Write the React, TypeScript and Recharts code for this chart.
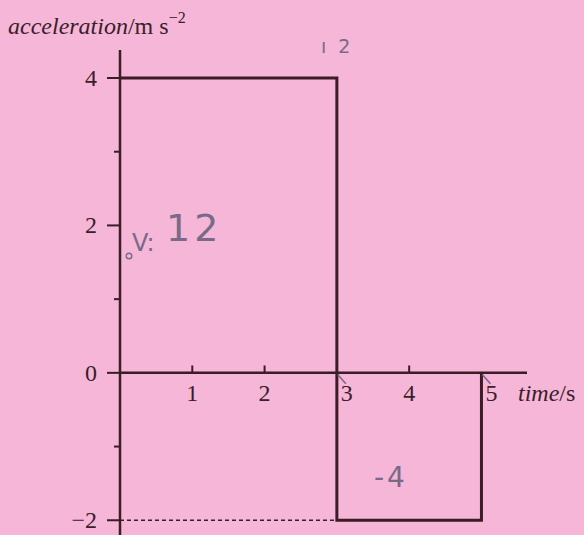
import { ComposedChart, Line, Scatter, XAxis, YAxis, ReferenceLine } from "recharts";

// acceleration-time step graph
const stepTimes = [0, 3, 3, 5, 5];
const stepAccel = [4, 4, -2, -2, 0];
const yTicks = [-2, -1, 0, 1, 2, 3, 4];
const yLabelled = [-2, 0, 2, 4];
const xTickMarks = [1, 2, 4];
const xLabels = [1, 2, 3, 4, 5];
const xLabelsOnEdge = [3, 5];
const dashedLevel = -2;
const dashedUntil = 3;

const stepData = stepTimes.map((t, i) => ({ t, a: stepAccel[i] }));
const labelData = xLabels.map((t) => ({ t, a: 0 }));

const INK = "#3a1d25";
const TEXT = "#3a2029";
const PENCIL = "#786a88";
const BG = "#f6b6d7";
const SERIF = "'Liberation Serif', 'DejaVu Serif', serif";

function YTick(props: any) {
  const { x, y, payload } = props;
  const v = payload.value;
  const major = yLabelled.includes(v);
  return (
    <g>
      <line x1={x - (major ? 13 : 6)} x2={x} y1={y} y2={y} stroke={INK} strokeWidth={2} />
      {major && (
        <text x={x - 23} y={y + 8} textAnchor="end" fontFamily={SERIF} fontSize={24} fill={TEXT}>
          {v < 0 ? `\u2212${Math.abs(v)}` : v}
        </text>
      )}
    </g>
  );
}

function XLabel(props: any) {
  const { cx, cy, payload } = props;
  const edge = xLabelsOnEdge.includes(payload.t);
  return (
    <g>
      {edge && <line x1={cx + 1} y1={cy + 2} x2={cx + 9} y2={cy + 11} stroke={PENCIL} strokeWidth={1.6} />}
      <text x={cx + (edge ? 10 : 0)} y={cy + 28} textAnchor="middle" fontFamily={SERIF} fontSize={24} fill={TEXT}>
        {payload.t}
      </text>
    </g>
  );
}

export default function App() {
  return (
    <div style={{ position: "absolute", left: 0, top: 0, width: 584, height: 535, background: BG, overflow: "hidden" }}>
      <ComposedChart width={584} height={535} margin={{ top: 50, right: 57, bottom: 0, left: 0 }}>
        <XAxis dataKey="t" type="number" domain={[0, 5.63]} hide />
        <YAxis
          dataKey="a"
          type="number"
          domain={[-2.2, 4.38]}
          ticks={yTicks}
          width={120}
          tickSize={0}
          tickMargin={0}
          tickLine={false}
          axisLine={{ stroke: INK, strokeWidth: 2.5 }}
          tick={<YTick />}
          interval={0}
        />
        <ReferenceLine y={0} stroke={INK} strokeWidth={2.5} />
        {xTickMarks.map((t) => (
          <ReferenceLine
            key={t}
            segment={[
              { x: t, y: 0 },
              { x: t, y: 0.1 },
            ]}
            stroke={INK}
            strokeWidth={2}
          />
        ))}
        <ReferenceLine
          segment={[
            { x: 0, y: dashedLevel },
            { x: dashedUntil, y: dashedLevel },
          ]}
          stroke={INK}
          strokeWidth={1.3}
          strokeDasharray="4 3"
        />
        <Line
          data={stepData}
          dataKey="a"
          type="linear"
          stroke={INK}
          strokeWidth={3}
          dot={false}
          isAnimationActive={false}
        />
        <Scatter data={labelData} dataKey="a" shape={<XLabel />} isAnimationActive={false} />
      </ComposedChart>
      <svg width={584} height={535} style={{ position: "absolute", left: 0, top: 0, pointerEvents: "none" }}>
        <text x={8} y={34} fontFamily={SERIF} fontSize={24} fill={TEXT}>
          <tspan fontStyle="italic">acceleration</tspan>
          <tspan>/m s</tspan>
          <tspan dy={-11} fontSize={16}>{"\u2212"}2</tspan>
        </text>
        <text x={518} y={401} fontFamily={SERIF} fontSize={24} fill={TEXT}>
          <tspan fontStyle="italic">time</tspan>
          <tspan>/s</tspan>
        </text>
        <g fontFamily="'DejaVu Sans', sans-serif" fill={PENCIL}>
          <text x={321} y={53} fontSize={19} letterSpacing={3}>{"\u0131 2"}</text>
          <circle cx={129} cy={256} r={2.8} fill="none" stroke={PENCIL} strokeWidth={1.4} />
          <text x={132} y={251} fontSize={24}>V:</text>
          <text x={166} y={241} fontSize={38} letterSpacing={4}>12</text>
          <text x={374} y={487} fontSize={28} letterSpacing={3}>-4</text>
        </g>
      </svg>
    </div>
  );
}
